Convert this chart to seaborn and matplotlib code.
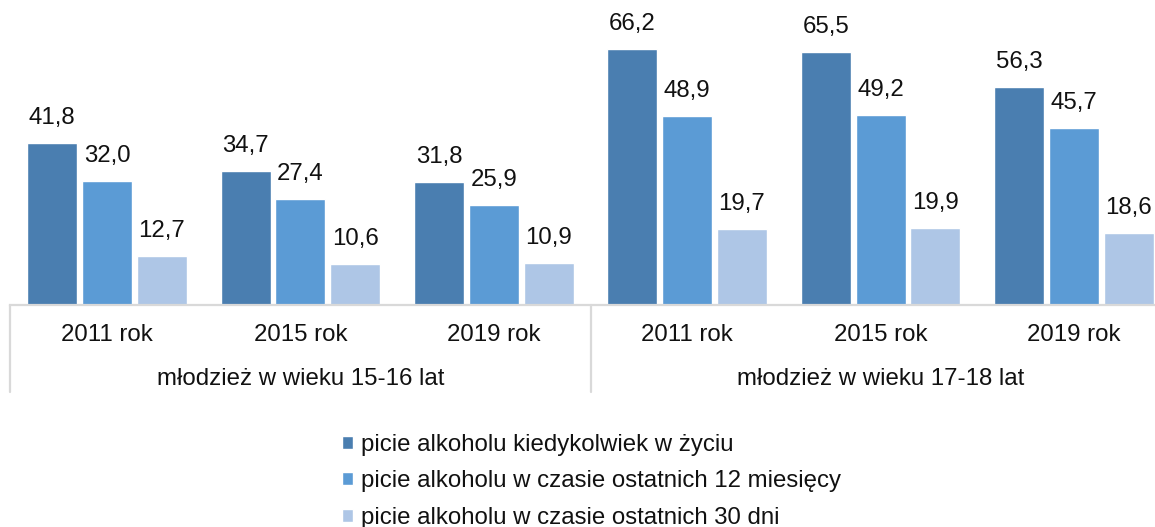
import matplotlib
matplotlib.use("Agg")
import matplotlib.pyplot as plt
import matplotlib.transforms as mtransforms
import seaborn as sns
import pandas as pd

# ---- data ----
groups = ["młodzież w wieku 15-16 lat", "młodzież w wieku 17-18 lat"]
years = ["2011 rok", "2015 rok", "2019 rok"]
series = ["picie alkoholu kiedykolwiek w życiu",
          "picie alkoholu w czasie ostatnich 12 miesięcy",
          "picie alkoholu w czasie ostatnich 30 dni"]
ever = [41.8, 34.7, 31.8, 66.2, 65.5, 56.3]
last12m = [32.0, 27.4, 25.9, 48.9, 49.2, 45.7]
last30d = [12.7, 10.6, 10.9, 19.7, 19.9, 18.6]
colors = ["#4A7EB0", "#5B9BD5", "#AEC6E6"]

keys = [f"{g}|{y}" for g in groups for y in years]
rows = []
for s, vals in zip(series, [ever, last12m, last30d]):
    for k, v in zip(keys, vals):
        rows.append({"cat": k, "series": s, "value": v})
df = pd.DataFrame(rows)

sns.set_theme(style="white")
plt.rcParams["font.family"] = ["Liberation Sans", "DejaVu Sans"]
TXT = "#111111"
FS = 17.3

W, H = 1155, 527
fig = plt.figure(figsize=(W / 100, H / 100), dpi=100)
left_px, right_px, base_px = 10.3, 1170.7, 305
ax = fig.add_axes([left_px / W, (H - base_px) / H, (right_px - left_px) / W, base_px / H])

sns.barplot(data=df, x="cat", y="value", hue="series", order=keys, hue_order=series,
            palette=colors, width=0.85, gap=0.09, saturation=1, ax=ax, legend=True)

ax.set_xlim(-0.5, len(keys) - 0.5)
ax.set_ylim(0, base_px / 3.867)

for cont in ax.containers:
    ax.bar_label(cont, labels=[f"{v:.1f}".replace(".", ",") for v in cont.datavalues],
                 padding=10, fontsize=FS, color=TXT)

# axes styling
for sp in ["top", "right", "left"]:
    ax.spines[sp].set_visible(False)
ax.spines["bottom"].set_color("#D9D9D9")
ax.spines["bottom"].set_linewidth(1.6)
ax.set_yticks([])
ax.set_xlabel("")
ax.set_ylabel("")
ax.set_xticks(range(len(keys)))
ax.set_xticklabels([])
ax.tick_params(axis="x", length=0)

trans = mtransforms.blended_transform_factory(ax.transData, ax.transAxes)
y_low = -(392 - base_px) / base_px
for xs in [-0.5, 2.5, 5.5]:
    ax.plot([xs, xs], [0, y_low], transform=trans, color="#D9D9D9", lw=1.6, clip_on=False)

y_year = -(335 - base_px) / base_px
y_grp = -(379 - base_px) / base_px
for i, k in enumerate(keys):
    ax.text(i, y_year, k.split("|")[1], transform=trans, ha="center", va="center",
            fontsize=FS, color=TXT)
for gi, g in enumerate(groups):
    ax.text(gi * 3 + 1, y_grp, g, transform=trans, ha="center", va="center",
            fontsize=FS, color=TXT)

handles, labels = ax.get_legend_handles_labels()
ax.get_legend().remove()
fig.legend(handles, labels, loc="upper left", bbox_to_anchor=(342 / W, 1 - 434 / H),
           frameon=False, fontsize=FS, handlelength=0.45, handleheight=0.45,
           handletextpad=0.32, labelspacing=0.6, borderpad=0, borderaxespad=0,
           labelcolor=TXT)

fig.savefig("out.png", dpi=100)
